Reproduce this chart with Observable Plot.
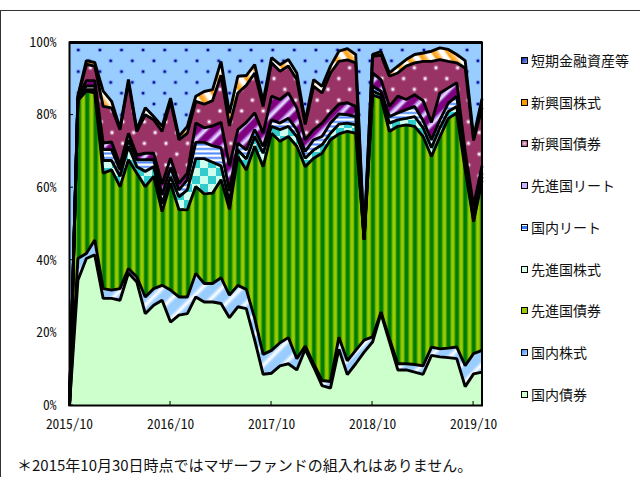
<!DOCTYPE html>
<html><head><meta charset="utf-8">
<script src="https://cdn.jsdelivr.net/npm/d3@7"></script>
<script src="https://cdn.jsdelivr.net/npm/@observablehq/plot@0.6"></script>
<style>
body{margin:0;background:#fff;}
#wrap{position:relative;width:640px;height:477px;overflow:hidden;font-family:"Noto Sans CJK JP","Noto Sans",sans-serif;color:#111;}
#box{position:absolute;left:0;top:10px;width:700px;height:500px;border-left:1.5px solid #333;border-top:1.5px solid #333;box-sizing:border-box;}
#chart{position:absolute;left:0;top:0;}
#legend{position:absolute;left:521px;top:0;width:119px;height:440px;}
.li{position:absolute;left:0;white-space:nowrap;font-size:14px;line-height:16px;}
.sw{display:inline-block;width:5px;height:5px;border:1.6px solid #000;margin-right:3px;vertical-align:2px;}
#note{position:absolute;left:17px;top:456px;font-size:15px;line-height:18px;white-space:nowrap;}
#chart text{font-feature-settings:"hwid";}
</style></head><body>
<div id="wrap"><div id="box"></div><div id="chart"></div><div id="legend"></div>
<div id="note">＊2015年10月30日時点ではマザーファンドの組入れはありません。</div></div>
<script>
const months = ["2015/10","2015/11","2015/12","2016/1","2016/2","2016/3","2016/4","2016/5","2016/6","2016/7","2016/8","2016/9",
"2016/10","2016/11","2016/12","2017/1","2017/2","2017/3","2017/4","2017/5","2017/6","2017/7","2017/8","2017/9",
"2017/10","2017/11","2017/12","2018/1","2018/2","2018/3","2018/4","2018/5","2018/6","2018/7","2018/8","2018/9",
"2018/10","2018/11","2018/12","2019/1","2019/2","2019/3","2019/4","2019/5","2019/6","2019/7","2019/8","2019/9",
"2019/10","2019/11"];
const tickLabels = ["2015/10","2016/10","2017/10","2018/10","2019/10"];
const yTicks = [0,20,40,60,80,100];
const seriesNames = ["国内債券","国内株式","先進国債券","先進国株式","国内リート","先進国リート","新興国債券","新興国株式","短期金融資産等"];

const domBond = [0,34.5,40.5,41.5,29.5,29.5,29.0,36.5,34.0,25.3,27.6,29.0,23.0,24.9,25.3,29.9,28.5,28.5,28.1,24.2,27.2,26.7,18.0,8.6,8.9,10.9,11.5,9.8,15.5,10.6,5.5,4.8,15.5,8.5,11.5,14.7,17.5,25.3,17.6,9.8,9.8,9.2,8.6,13.8,13.4,13.2,12.9,5.2,8.7,9.2];
const domStock = [0,6.0,1.4,4.1,2.7,2.3,3.2,1.2,1.4,4.6,4.6,4.1,8.8,5.0,4.6,6.5,5.1,5.1,7.1,6.2,5.9,5.3,6.0,5.5,6.3,6.4,7.2,3.1,0.9,0.9,1.4,1.8,3.3,3.8,3.7,3.3,1.4,0.5,0.8,1.7,1.7,2.1,2.3,2.3,2.2,2.6,3.2,5.8,5.6,6.0];
const dvBond = [0,43.5,44.7,40.5,31.8,33.1,28.1,30.0,28.6,30.4,30.9,20.3,29.4,24.1,24.0,23.9,24.7,24.9,27.0,23.6,35.5,32.9,47.4,51.7,59.8,55.5,55.4,58.5,49.4,56.6,62.6,66.6,56.0,63.2,59.8,27.6,66.7,58.9,57.1,65.4,65.8,65.6,63.2,52.5,58.5,63.3,64.5,54.0,36.3,46.8];
const dvStock = [0,0.3,0.4,0.9,3.5,2.6,2.8,3.7,1.8,4.2,2.7,2.1,1.8,3.5,5.5,7.7,9.7,8.5,3.8,2.0,1.8,3.0,2.7,3.7,1.9,3.2,2.8,2.7,2.3,2.3,2.3,1.8,2.7,2.3,2.3,0.1,1.0,0.9,2.3,1.8,1.8,2.7,2.4,2.4,2.4,1.9,1.8,1.5,0.6,1.0];
const domReit = [0,0.2,1.0,1.0,3.0,3.0,1.8,1.8,1.9,3.2,1.9,2.5,2.5,1.9,2.8,4.5,4.5,4.5,5.0,3.0,1.9,2.5,1.9,1.9,1.8,1.8,2.2,1.9,1.9,2.8,2.3,2.8,2.8,2.3,2.3,0.1,1.4,1.0,1.8,1.9,2.4,2.8,2.0,2.2,2.2,2.3,2.8,1.5,0.8,1.0];
const dvReit = [0,0.2,1.5,1.5,1.8,2.1,1.4,1.8,1.3,1.8,1.8,3.0,2.6,1.8,1.8,5.3,4.0,5.5,7.0,7.0,3.7,7.6,4.6,3.6,6.5,6.5,7.0,6.0,3.2,2.8,3.7,2.8,2.7,3.3,2.8,0.1,3.6,3.2,2.8,4.6,2.8,3.2,5.5,4.8,7.4,4.2,3.7,2.0,3.0,2.0];
const emBond = [0,0.3,4.5,4.0,10.1,9.4,9.7,13.9,6.5,10.6,9.2,14.5,15.7,12.0,11.0,6.0,6.5,7.0,13.0,11.0,10.1,10.2,11.0,7.4,9.2,7.8,7.4,7.8,4.2,11.9,8.3,11.0,11.8,11.8,12.0,0.2,4.6,6.7,8.3,6.4,9.2,8.8,10.8,16.8,9.2,7.3,5.5,23.0,18.0,16.0];
const emStock = [0,0.3,1.0,1.0,4.2,1.8,0.4,0.9,0.5,1.9,0.9,1.4,0.9,0.9,1.9,1.4,3.5,3.0,3.8,3.5,4.6,2.7,2.3,1.4,1.4,1.8,1.8,1.8,0.9,1.9,1.8,1.9,2.8,3.1,2.3,0.1,0.5,1.0,0.9,1.9,1.8,2.3,2.3,2.8,3.2,3.3,2.3,2.0,1.0,2.5];
const cash = [100,14.7,5.0,5.5,13.4,16.2,23.6,10.2,24.0,18.0,20.4,23.1,15.3,25.9,23.1,14.8,13.5,13.0,5.2,19.5,9.3,9.1,6.1,16.2,4.2,6.1,4.7,8.4,21.7,10.2,12.1,6.5,2.4,1.7,3.3,53.8,3.3,2.5,8.4,6.5,4.7,3.3,2.9,2.4,1.5,1.9,3.3,5.0,26.0,15.5];
const seriesValues = [domBond, domStock, dvBond, dvStock, domReit, dvReit, emBond, emStock, cash];

const fills = {
  "国内債券":"#ccffcc","国内株式":"url(#pJpStock)","先進国債券":"url(#pDvBond)","先進国株式":"url(#pDvStock)",
  "国内リート":"url(#pJpReit)","先進国リート":"url(#pDvReit)","新興国債券":"url(#pEmBond)","新興国株式":"url(#pEmStock)","短期金融資産等":"url(#pCash)"
};
const swatches = {
  "短期金融資産等":"linear-gradient(135deg,#0a1f8f,#7aa6ff)","新興国株式":"#ff9900","新興国債券":"radial-gradient(#ffd6f0,#993366)",
  "先進国リート":"#c8b4ff","国内リート":"linear-gradient(#fff 25%,#2f7fff 25%,#2f7fff 75%,#fff 75%)","先進国株式":"#d4ffe6",
  "先進国債券":"#99cc00","国内株式":"linear-gradient(135deg,#3a8cff,#b8dcff)","国内債券":"#ccffcc"
};

const data = [];
months.forEach((m, i) => seriesNames.forEach((s, k) => data.push({month: m, series: s, value: seriesValues[k][i]})));

const chart = Plot.plot({
  width: 640, height: 440,
  marginLeft: 69, marginRight: 158.5, marginTop: 42, marginBottom: 35,
  style: {fontFamily: "'Noto Sans CJK JP',sans-serif", fontSize: "13.5px", color: "#111", background: "transparent", overflow: "visible"},
  x: {type: "point", domain: months, padding: 0, round: false},
  y: {domain: [0, 100]},
  color: {type: "identity"},
  marks: [
    Plot.areaY(data, Plot.stackY({x: "month", y: "value", z: "series", order: seriesNames, fill: d => fills[d.series]})),
    Plot.lineY(data, Plot.stackY2({x: "month", y: "value", z: "series", order: seriesNames, stroke: "#000", strokeWidth: 2.9, strokeLinejoin: "miter", strokeLinecap: "butt"})),
    Plot.frame({stroke: "#000", strokeWidth: 2}),
    Plot.axisY({ticks: yTicks, tickFormat: d => d + "%", tickSize: 0, tickPadding: 13, label: null}),
    Plot.axisX({ticks: tickLabels, tickSize: 0, tickPadding: 14, label: null})
  ]
});

const defs = `<defs>
<pattern id="pCash" patternUnits="userSpaceOnUse" x="13.5" y="6.8" width="21.6" height="21.6">
 <rect width="21.6" height="21.6" fill="#99ccff"/>
 <g fill="#3d5fd6" opacity="0.45"><circle cx="0" cy="0" r="2.3"/><circle cx="21.6" cy="0" r="2.3"/><circle cx="0" cy="21.6" r="2.3"/><circle cx="21.6" cy="21.6" r="2.3"/><circle cx="10.8" cy="10.8" r="2.3"/></g>
 <g fill="#000090"><circle cx="0" cy="0" r="1.3"/><circle cx="21.6" cy="0" r="1.3"/><circle cx="0" cy="21.6" r="1.3"/><circle cx="21.6" cy="21.6" r="1.3"/><circle cx="10.8" cy="10.8" r="1.3"/></g>
</pattern>
<pattern id="pEmBond" patternUnits="userSpaceOnUse" x="4" y="3" width="21.6" height="21.6">
 <rect width="21.6" height="21.6" fill="#993366"/>
 <g fill="#d9a0c8" opacity="0.7"><circle cx="0" cy="0" r="2.4"/><circle cx="21.6" cy="0" r="2.4"/><circle cx="0" cy="21.6" r="2.4"/><circle cx="21.6" cy="21.6" r="2.4"/><circle cx="10.8" cy="10.8" r="2.4"/></g>
 <g fill="#fff"><circle cx="0" cy="0" r="1.2"/><circle cx="21.6" cy="0" r="1.2"/><circle cx="0" cy="21.6" r="1.2"/><circle cx="21.6" cy="21.6" r="1.2"/><circle cx="10.8" cy="10.8" r="1.2"/></g>
</pattern>
<linearGradient id="gEmS"><stop offset="0" stop-color="#ff9900"/><stop offset="0.35" stop-color="#ffc266"/><stop offset="0.55" stop-color="#fff"/><stop offset="0.85" stop-color="#fff"/><stop offset="1" stop-color="#ff9900"/></linearGradient>
<pattern id="pEmStock" patternUnits="userSpaceOnUse" width="12" height="12" patternTransform="rotate(-35)"><rect width="12" height="12" fill="url(#gEmS)"/></pattern>
<linearGradient id="gDvR"><stop offset="0" stop-color="#800080"/><stop offset="0.45" stop-color="#800080"/><stop offset="0.65" stop-color="#c8a0ff"/><stop offset="0.78" stop-color="#f4eaff"/><stop offset="0.9" stop-color="#b080e0"/><stop offset="1" stop-color="#800080"/></linearGradient>
<pattern id="pDvReit" patternUnits="userSpaceOnUse" width="12" height="12" patternTransform="rotate(45)"><rect width="12" height="12" fill="url(#gDvR)"/></pattern>
<linearGradient id="gJpR" x1="0" y1="0" x2="0" y2="1"><stop offset="0" stop-color="#2f6fff"/><stop offset="0.3" stop-color="#8ab8ff"/><stop offset="0.5" stop-color="#fff"/><stop offset="0.8" stop-color="#fff"/><stop offset="1" stop-color="#2f6fff"/></linearGradient>
<pattern id="pJpReit" patternUnits="userSpaceOnUse" width="10" height="4.5"><rect width="10" height="4.5" fill="url(#gJpR)"/></pattern>
<pattern id="pDvStock" patternUnits="userSpaceOnUse" width="16" height="16"><rect width="16" height="16" fill="#ccffee"/><rect width="8" height="8" fill="#33cccc"/><rect x="8" y="8" width="8" height="8" fill="#33cccc"/></pattern>
<linearGradient id="gDvB"><stop offset="0" stop-color="#007800"/><stop offset="0.3" stop-color="#008000"/><stop offset="0.45" stop-color="#66b000"/><stop offset="0.55" stop-color="#99cc00"/><stop offset="0.8" stop-color="#99cc00"/><stop offset="1" stop-color="#007800"/></linearGradient>
<pattern id="pDvBond" patternUnits="userSpaceOnUse" x="2" width="8.4" height="10"><rect width="8.4" height="10" fill="url(#gDvB)"/></pattern>
<linearGradient id="gJpS"><stop offset="0" stop-color="#99ccff"/><stop offset="0.5" stop-color="#99ccff"/><stop offset="0.75" stop-color="#fff"/><stop offset="1" stop-color="#99ccff"/></linearGradient>
<pattern id="pJpStock" patternUnits="userSpaceOnUse" width="14" height="14" patternTransform="rotate(45)"><rect width="14" height="14" fill="url(#gJpS)"/></pattern>
</defs>`;
chart.insertAdjacentHTML("afterbegin", defs);

// inward tick marks
const xs = chart.scale("x"), ys = chart.scale("y");
const g = d3.select(chart).append("g").attr("stroke", "#000").attr("stroke-width", 1);
const xl = xs.apply(months[0]);
yTicks.forEach(v => { const y = ys.apply(v); g.append("line").attr("x1", xl).attr("x2", xl + 4).attr("y1", y).attr("y2", y); });
const yb = ys.apply(0);
tickLabels.forEach(m => { const x = xs.apply(m); g.append("line").attr("x1", x).attr("x2", x).attr("y1", yb).attr("y2", yb - 4); });

document.getElementById("chart").appendChild(chart);

// legend (top of stack first)
const legendOrder = seriesNames.slice().reverse();
const legendY = [60, 101.7, 143.4, 185.1, 226.8, 268.5, 310.2, 351.9, 393.6];
const leg = document.getElementById("legend");
legendOrder.forEach((s, k) => {
  const div = document.createElement("div");
  div.className = "li";
  div.style.top = (legendY[k] - 8) + "px";
  div.innerHTML = `<span class="sw" style="background:${swatches[s]}"></span>${s}`;
  leg.appendChild(div);
});
</script>
</body></html>
